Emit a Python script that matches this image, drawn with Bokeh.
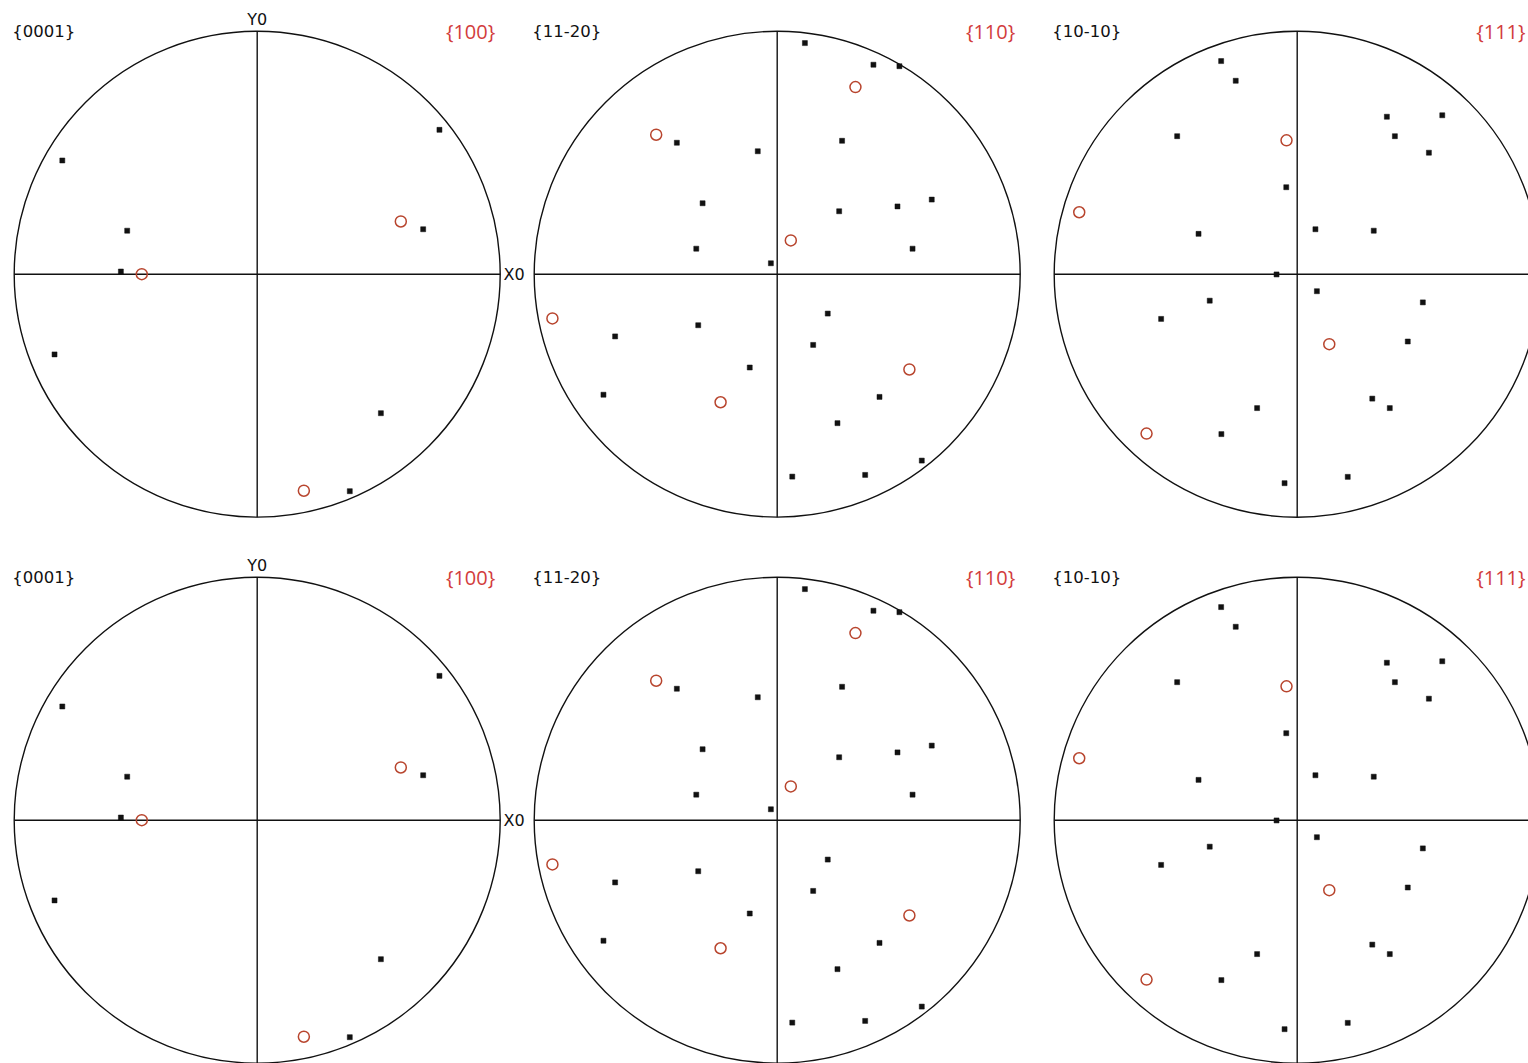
from bokeh.plotting import figure
from bokeh.models import Range1d
from bokeh.core.properties import value
from bokeh.embed import file_html
from bokeh.resources import INLINE

# Pole figure data: projected pole positions in units of the primitive-circle radius
hcp_0001_x = [-0.802, 0.750, -0.535, 0.683, -0.561, -0.834, 0.509, 0.381]
hcp_0001_y = [0.468, 0.594, 0.179, 0.185, 0.011, -0.330, -0.572, -0.893]
bcc_100_x = [0.591, -0.475, 0.192]
bcc_100_y = [0.217, 0.000, -0.891]

hcp_1120_x = [0.114, 0.396, 0.503, 0.267, -0.413, -0.080, -0.307, 0.255, 0.495, 0.636,
              -0.333, 0.557, -0.026, 0.208, -0.325, -0.667, 0.148, -0.113, -0.715, 0.421,
              0.248, 0.595, 0.062, 0.362]
hcp_1120_y = [0.951, 0.862, 0.856, 0.549, 0.541, 0.506, 0.292, 0.259, 0.279, 0.307,
              0.105, 0.105, 0.045, -0.162, -0.210, -0.256, -0.291, -0.384, -0.496, -0.505,
              -0.613, -0.767, -0.833, -0.826]
bcc_110_x = [0.322, -0.498, 0.056, -0.925, 0.544, -0.233]
bcc_110_y = [0.770, 0.574, 0.139, -0.182, -0.392, -0.527]

hcp_1010_x = [-0.313, -0.253, -0.494, 0.369, 0.597, 0.402, 0.542, -0.045, -0.406, 0.075,
              0.315, -0.085, 0.081, -0.360, -0.560, 0.517, 0.455, 0.309, 0.381, -0.165,
              -0.312, -0.052, 0.208]
hcp_1010_y = [0.877, 0.796, 0.568, 0.648, 0.654, 0.568, 0.500, 0.358, 0.166, 0.185,
              0.179, -0.001, -0.070, -0.109, -0.184, -0.116, -0.277, -0.512, -0.551, -0.551,
              -0.658, -0.860, -0.834]
bcc_111_x = [-0.044, -0.897, 0.132, -0.620]
bcc_111_y = [0.551, 0.255, -0.288, -0.656]

hcp_labels = ["{0001}", "{11-20}", "{10-10}"]
bcc_labels = ["{100}", "{110}", "{111}"]

panels = [
    (hcp_0001_x, hcp_0001_y, bcc_100_x, bcc_100_y),
    (hcp_1120_x, hcp_1120_y, bcc_110_x, bcc_110_y),
    (hcp_1010_x, hcp_1010_y, bcc_111_x, bcc_111_y),
]

# Layout of the sheet (pixels), converted to radius units
W, H = 1528, 1063
R_PX = 243.0
C0X, C0Y = 256.7, 273.7
COL_STEP, ROW_STEP = 520.0, 546.0

p = figure(width=W, height=H, output_backend="svg", toolbar_location=None,
           x_range=Range1d(-C0X / R_PX, (W - C0X) / R_PX),
           y_range=Range1d((C0Y - H) / R_PX, C0Y / R_PX),
           min_border=0, min_border_left=0, min_border_right=0,
           min_border_top=0, min_border_bottom=0)
p.axis.visible = False
p.grid.visible = False
p.outline_line_color = None
p.background_fill_color = "white"
p.border_fill_color = "white"

BLACK = "#111111"
RED_MARK = "#b8452e"
RED_TEXT = "#d23c3c"
LABEL_FONT = value("DejaVu Sans")
RED_FONT = value("Open Sans")

for row in range(2):
    cy = -row * ROW_STEP / R_PX
    for col, (bx, by, rx, ry) in enumerate(panels):
        cx = col * COL_STEP / R_PX
        cx_px = C0X + col * COL_STEP

        # primitive circle and reference axes
        p.circle(x=[cx], y=[cy], radius=1.0, fill_color=None,
                 line_color=BLACK, line_width=1.4)
        p.segment(x0=[cx - 1.0, cx], y0=[cy, cy - 1.0],
                  x1=[cx + 1.0, cx], y1=[cy, cy + 1.0],
                  line_color=BLACK, line_width=1.4)

        # poles
        p.scatter(x=[cx + v for v in bx], y=[cy + v for v in by], marker="square",
                  size=5, fill_color=BLACK, line_color=BLACK, line_width=0.5)
        p.scatter(x=[cx + v for v in rx], y=[cy + v for v in ry], marker="circle",
                  size=11, fill_color=None, line_color=RED_MARK, line_width=1.5)

        # plane labels (the right-hand label is kept inside the sheet)
        right_px = min(cx_px + 238, W - 3)
        p.text(x=[cx - 245 / R_PX], y=[cy + 0.998], text=[hcp_labels[col]],
               text_font=LABEL_FONT, text_font_size="16.5px", text_color=BLACK,
               text_align="left", text_baseline="middle")
        p.text(x=[(right_px - C0X) / R_PX], y=[cy + 0.998], text=[bcc_labels[col]],
               text_font=RED_FONT, text_font_size="20px", text_color=RED_TEXT,
               text_align="right", text_baseline="middle")

        if col == 0:
            p.text(x=[cx], y=[cy + 1.05], text=["Y0"],
                   text_font=LABEL_FONT, text_font_size="16px", text_color=BLACK,
                   text_align="center", text_baseline="middle")
            p.text(x=[cx + 1.014], y=[cy], text=["X0"],
                   text_font=LABEL_FONT, text_font_size="16px", text_color=BLACK,
                   text_align="left", text_baseline="middle")

open("out.html", "w").write(file_html(p, INLINE))
